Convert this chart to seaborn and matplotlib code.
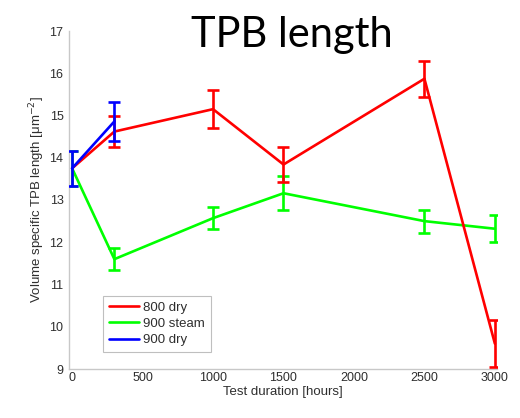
import matplotlib
matplotlib.use("Agg")
import matplotlib.pyplot as plt
import seaborn as sns
import pandas as pd

# Measured TPB length per test condition (mean and half-width of error bar)
hours_800_dry = [0, 300, 1000, 1500, 2500, 3000]
tpb_800_dry = [13.75, 14.62, 15.15, 13.84, 15.87, 9.6]
err_800_dry = [0.0, 0.37, 0.45, 0.42, 0.43, 0.55]

hours_900_steam = [0, 300, 1000, 1500, 2500, 3000]
tpb_900_steam = [13.75, 11.6, 12.57, 13.16, 12.5, 12.32]
err_900_steam = [0.42, 0.26, 0.26, 0.40, 0.27, 0.32]

hours_900_dry = [0, 300]
tpb_900_dry = [13.75, 14.86]
err_900_dry = [0.42, 0.47]

series_names = ["800 dry", "900 steam", "900 dry"]
series_colors = ["#ff0000", "#00ff00", "#0000ff"]
x_ticks = [0, 500, 1000, 1500, 2000, 2500, 3000]
y_ticks = [9, 10, 11, 12, 13, 14, 15, 16, 17]

frames = []
for name, hrs, vals, errs in [
    (series_names[0], hours_800_dry, tpb_800_dry, err_800_dry),
    (series_names[1], hours_900_steam, tpb_900_steam, err_900_steam),
    (series_names[2], hours_900_dry, tpb_900_dry, err_900_dry),
]:
    frames.append(pd.DataFrame({"hours": hrs, "tpb": vals, "err": errs, "series": name}))
df = pd.concat(frames, ignore_index=True)

sns.set_style("white")
plt.rcParams["font.family"] = ["Liberation Sans", "DejaVu Sans"]

fig = plt.figure(figsize=(5.2, 4.18), dpi=100)
ax = fig.add_axes([69 / 520, 1 - 369 / 418, 428 / 520, 338 / 418])

palette = dict(zip(series_names, series_colors))
zorders = {"800 dry": 3, "900 steam": 2, "900 dry": 4}

sns.lineplot(data=df, x="hours", y="tpb", hue="series", hue_order=series_names,
             palette=palette, linewidth=1.9, ax=ax, legend=True, sort=False)
for line, name in zip(ax.get_lines(), series_names):
    line.set_zorder(zorders[name])

for name in series_names:
    sub = df[df["series"] == name]
    sub = sub[sub["err"] > 0]
    ax.errorbar(sub["hours"], sub["tpb"], yerr=sub["err"], fmt="none",
                ecolor=palette[name], elinewidth=1.9, capsize=4.5, capthick=1.9,
                zorder=zorders[name])

ax.set_xlim(-22, 3015)
ax.set_ylim(9, 17)
ax.set_xticks(x_ticks)
ax.set_yticks(y_ticks)

tick_color = "#2e2e2e"
ax.tick_params(axis="both", direction="in", length=3, width=0.8, color="#bdbdbd",
               labelsize=9, labelcolor=tick_color, pad=4)
ax.tick_params(axis="x", pad=2)
for side in ["top", "right"]:
    ax.spines[side].set_visible(False)
for side in ["left", "bottom"]:
    ax.spines[side].set_color("#c8c8c8")
    ax.spines[side].set_linewidth(1.0)

ax.set_xlabel("Test duration [hours]", fontsize=9.5, color=tick_color, labelpad=1.5)
ax.set_ylabel("Volume specific TPB length [\u03bcm$^{-2}$]", fontsize=9.5,
              color=tick_color, labelpad=1.5)

leg = ax.legend(loc="lower left", bbox_to_anchor=(0.079, 0.05), borderaxespad=0,
                fontsize=9.5, frameon=True, fancybox=False, handlelength=2.3,
                handletextpad=0.3, borderpad=0.45, labelspacing=0.3)
leg.get_frame().set_edgecolor("#b0b0b0")
leg.get_frame().set_linewidth(0.8)
for txt in leg.get_texts():
    txt.set_color(tick_color)
for h in leg.get_lines():
    h.set_linewidth(1.9)

fig.text(0.562, 1 - 47 / 418, "TPB length", fontsize=30, color="black",
         ha="center", va="baseline", family=["Lato", "DejaVu Sans"])

fig.savefig("out.png", dpi=100)
